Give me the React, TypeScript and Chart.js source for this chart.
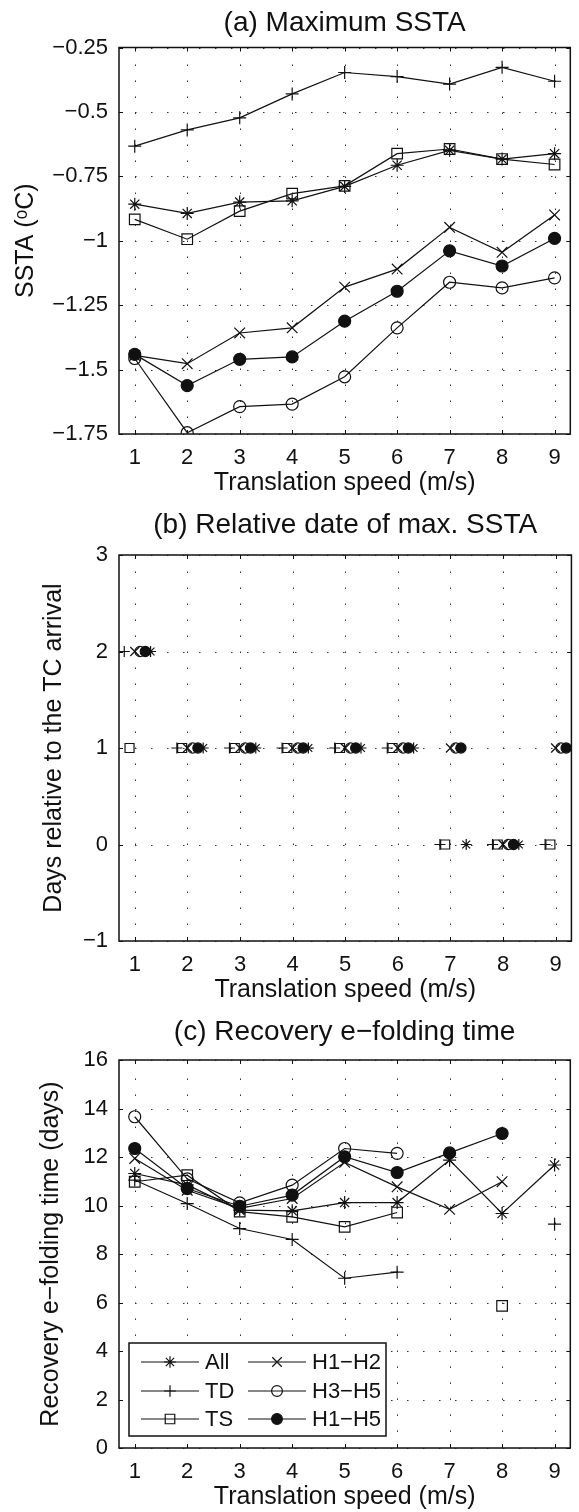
import React, { useEffect, useRef } from "react";
import { Chart, registerables } from "chart.js";

Chart.register(...registerables);

const FONT = "'Liberation Sans', Arial, Helvetica, sans-serif";
const INK = "#111111";

// ---- categories / series names ----
const speeds = [1, 2, 3, 4, 5, 6, 7, 8, 9];
const seriesNames = ["All", "TD", "TS", "H1\u2212H2", "H3\u2212H5", "H1\u2212H5"];

// ---- tick labels ----
const speedTicks = [1, 2, 3, 4, 5, 6, 7, 8, 9];
const sstaTicks = [-1.75, -1.5, -1.25, -1, -0.75, -0.5, -0.25];
const dateTicks = [-1, 0, 1, 2, 3];
const recoveryTicks = [0, 2, 4, 6, 8, 10, 12, 14, 16];

// ---- (a) Maximum SSTA (°C) ----
const sstaAll = [-0.858, -0.894, -0.85, -0.845, -0.789, -0.707, -0.649, -0.683, -0.662];
const sstaTD = [-0.633, -0.57, -0.523, -0.43, -0.347, -0.363, -0.392, -0.327, -0.381];
const sstaTS = [-0.917, -0.994, -0.885, -0.817, -0.787, -0.662, -0.644, -0.683, -0.704];
const sstaH12 = [-1.445, -1.477, -1.358, -1.338, -1.18, -1.11, -0.948, -1.045, -0.9];
const sstaH35 = [-1.457, -1.745, -1.644, -1.634, -1.528, -1.338, -1.161, -1.183, -1.144];
const sstaH15 = [-1.441, -1.562, -1.46, -1.451, -1.312, -1.196, -1.039, -1.098, -0.991];

// ---- (b) Relative date of max. SSTA (days) ----
const dateAll = [2, 1, 1, 1, 1, 1, 0, 0, null];
const dateTD = [2, 1, 1, 1, 1, 1, 0, 0, 0];
const dateTS = [1, 1, 1, 1, 1, 1, 0, 0, 0];
const dateH12 = [2, 1, 1, 1, 1, 1, 1, 0, 1];
const dateH35 = [2, 1, 1, 1, 1, 1, 1, 0, 1];
const dateH15 = [2, 1, 1, 1, 1, 1, 1, 0, 1];
// horizontal jitter of each series in panel (b), in m/s
const dateJitter = [0.3, -0.2, -0.1, 0, 0.1, 0.2];

// ---- (c) Recovery e-folding time (days) ----
const recAll = [11.32, 10.85, 9.81, 9.78, 10.12, 10.12, 11.87, 9.67, 11.67];
const recTD = [11.05, 10.08, 9.05, 8.6, 7.0, 7.25, null, null, 9.23];
const recTS = [10.98, 11.25, 9.75, 9.53, 9.12, 9.71, null, 5.86, null];
const recH12 = [11.94, 10.63, 9.88, 10.29, 11.78, 10.77, 9.84, 10.98, null];
const recH35 = [13.66, 11.1, 10.11, 10.84, 12.35, 12.15, null, null, null];
const recH15 = [12.35, 10.7, 9.97, 10.43, 12.01, 11.36, 12.17, 12.97, null];

// ---- marker styles (index-matched to seriesNames) ----
const markerShapes = ["star", "cross", "rect", "crossRot", "circle", "circle"];
const markerFilled = [false, false, false, false, false, true];
const markerRadius: Record<string, number> = { star: 6.5, cross: 6.5, rect: 7.5, crossRot: 7.5, circle: 6 };

const fmt = (v: number) => String(Math.round(v * 100) / 100).replace("-", "\u2212");

function drawMarker(ctx: CanvasRenderingContext2D, shape: string, x: number, y: number, r: number, filled: boolean) {
  ctx.beginPath();
  if (shape === "circle") {
    ctx.arc(x, y, r, 0, Math.PI * 2);
    if (filled) { ctx.fillStyle = INK; ctx.fill(); }
    ctx.stroke();
    return;
  }
  if (shape === "rect") {
    const s = r * Math.SQRT1_2;
    ctx.rect(x - s, y - s, 2 * s, 2 * s);
    ctx.stroke();
    return;
  }
  if (shape === "cross" || shape === "star") {
    ctx.moveTo(x - r, y); ctx.lineTo(x + r, y);
    ctx.moveTo(x, y - r); ctx.lineTo(x, y + r);
  }
  if (shape === "crossRot" || shape === "star") {
    const d = r * Math.SQRT1_2;
    ctx.moveTo(x - d, y - d); ctx.lineTo(x + d, y + d);
    ctx.moveTo(x - d, y + d); ctx.lineTo(x + d, y - d);
  }
  ctx.stroke();
}

const framePlugin = {
  id: "frame",
  beforeDatasetsDraw(chart: any) {
    const { ctx, chartArea, scales } = chart;
    const { left, right, top, bottom } = chartArea;
    ctx.save();
    ctx.strokeStyle = "#333";
    ctx.lineWidth = 1;
    ctx.setLineDash([1.5, 14.5]);
    for (const t of scales.x.ticks) {
      const px = Math.round(scales.x.getPixelForValue(t.value)) + 0.5;
      ctx.beginPath(); ctx.moveTo(px, bottom); ctx.lineTo(px, top); ctx.stroke();
    }
    for (const t of scales.y.ticks) {
      const py = Math.round(scales.y.getPixelForValue(t.value)) + 0.5;
      ctx.beginPath(); ctx.moveTo(left, py); ctx.lineTo(right, py); ctx.stroke();
    }
    ctx.restore();
  },
  afterDatasetsDraw(chart: any, _args: any, opts: any) {
    const { ctx, chartArea, scales } = chart;
    const { left, right, top, bottom } = chartArea;
    ctx.save();
    ctx.setLineDash([]);
    ctx.strokeStyle = INK;
    ctx.lineWidth = 1;
    const tk = 4;
    ctx.beginPath();
    for (const t of scales.x.ticks) {
      const px = Math.round(scales.x.getPixelForValue(t.value)) + 0.5;
      ctx.moveTo(px, bottom); ctx.lineTo(px, bottom - tk);
      ctx.moveTo(px, top); ctx.lineTo(px, top + tk);
    }
    for (const t of scales.y.ticks) {
      const py = Math.round(scales.y.getPixelForValue(t.value)) + 0.5;
      ctx.moveTo(left, py); ctx.lineTo(left + tk, py);
      ctx.moveTo(right, py); ctx.lineTo(right - tk, py);
    }
    ctx.stroke();
    ctx.lineWidth = 1.5;
    ctx.strokeRect(left, top, right - left, bottom - top);

    if (opts && opts.legend) {
      const w = 257, h = 93;
      const x0 = left + 10, y0 = bottom - 12 - h;
      ctx.fillStyle = "#ffffff";
      ctx.fillRect(x0, y0, w, h);
      ctx.lineWidth = 1.5;
      ctx.strokeRect(x0, y0, w, h);
      const rows = [19, 48, 76];
      const cols = [12, 119];
      ctx.font = `22px ${FONT}`;
      ctx.textBaseline = "middle";
      ctx.textAlign = "left";
      chart.data.datasets.forEach((ds: any, i: number) => {
        const cx = x0 + cols[Math.floor(i / 3)];
        const cy = y0 + rows[i % 3];
        ctx.strokeStyle = INK;
        ctx.lineWidth = 1.2;
        ctx.beginPath(); ctx.moveTo(cx, cy); ctx.lineTo(cx + 58, cy); ctx.stroke();
        drawMarker(ctx, markerShapes[i], cx + 29, cy, markerRadius[markerShapes[i]] * 0.9, markerFilled[i]);
        ctx.fillStyle = INK;
        ctx.fillText(ds.label, cx + 64, cy + 1);
      });
    }
    ctx.restore();
  },
};

type PanelSpec = {
  height: number;
  title: string;
  titlePad: { top: number; bottom: number };
  yTitle: string;
  yTitlePad: number;
  yTicks: number[];
  series: (number | null)[][];
  jitter?: number[];
  lines: boolean;
  markerScale: number;
  xAxisHeight: number;
  xTitlePadBottom: number;
  legend: boolean;
};

function buildConfig(spec: PanelSpec): any {
  const datasets = spec.series.map((vals, i) => {
    const shape = markerShapes[i];
    return {
      label: seriesNames[i],
      data: speeds.map((s, k) => ({ x: s + (spec.jitter ? spec.jitter[i] : 0), y: vals[k] })),
      showLine: spec.lines,
      borderColor: INK,
      borderWidth: 1.2,
      tension: 0,
      spanGaps: false,
      pointStyle: shape,
      pointRadius: markerRadius[shape] * spec.markerScale,
      pointBorderColor: INK,
      pointBorderWidth: 1.2,
      pointBackgroundColor: markerFilled[i] ? INK : "rgba(0,0,0,0)",
    };
  });
  const tickFont = { family: FONT, size: 22 };
  const labelFont = { family: FONT, size: 25, lineHeight: 1.2 };
  return {
    type: "line",
    data: { datasets },
    plugins: [framePlugin],
    options: {
      responsive: false,
      animation: false,
      devicePixelRatio: 1,
      events: [],
      layout: { padding: { left: 0, right: 7, top: 0, bottom: 0 } },
      plugins: {
        legend: { display: false },
        tooltip: { enabled: false },
        title: {
          display: true,
          text: spec.title,
          fullSize: false,
          color: INK,
          font: { family: FONT, size: 28, weight: "normal", lineHeight: 1.2 },
          padding: spec.titlePad,
        },
        frame: { legend: spec.legend },
      },
      scales: {
        x: {
          type: "linear",
          min: 0.7,
          max: 9.3,
          afterBuildTicks: (s: any) => { s.ticks = speedTicks.map((v) => ({ value: v })); },
          afterFit: (s: any) => { s.height = spec.xAxisHeight; },
          grid: { display: false, drawTicks: false },
          border: { display: false },
          ticks: { font: tickFont, color: INK, padding: 10.8, maxRotation: 0, autoSkip: false, callback: (v: any) => fmt(Number(v)) },
          title: { display: true, text: "Translation speed (m/s)", color: INK, font: labelFont, padding: { top: 0, bottom: spec.xTitlePadBottom } },
        },
        y: {
          type: "linear",
          min: spec.yTicks[0],
          max: spec.yTicks[spec.yTicks.length - 1],
          afterBuildTicks: (s: any) => { s.ticks = spec.yTicks.map((v) => ({ value: v })); },
          afterFit: (s: any) => { s.width = 119; },
          grid: { display: false, drawTicks: false },
          border: { display: false },
          ticks: { font: tickFont, color: INK, padding: 11, autoSkip: false, callback: (v: any) => fmt(Number(v)) },
          title: { display: true, text: spec.yTitle, color: INK, font: labelFont, padding: { top: spec.yTitlePad, bottom: 0 } },
        },
      },
    },
  };
}

const panels: PanelSpec[] = [
  {
    height: 500,
    title: "(a) Maximum SSTA",
    titlePad: { top: 6.2, bottom: 7.7 },
    yTitle: "SSTA (\u1D52C)",
    yTitlePad: 11,
    yTicks: sstaTicks,
    series: [sstaAll, sstaTD, sstaTS, sstaH12, sstaH35, sstaH15],
    lines: true,
    markerScale: 1,
    xAxisHeight: 66,
    xTitlePadBottom: 2,
    legend: false,
  },
  {
    height: 507,
    title: "(b) Relative date of max. SSTA",
    titlePad: { top: 8.2, bottom: 13.2 },
    yTitle: "Days relative to the TC arrival",
    yTitlePad: 39,
    yTicks: dateTicks,
    series: [dateAll, dateTD, dateTS, dateH12, dateH35, dateH15],
    jitter: dateJitter,
    lines: false,
    markerScale: 0.85,
    xAxisHeight: 66,
    xTitlePadBottom: 2,
    legend: false,
  },
  {
    height: 505,
    title: "(c) Recovery e\u2212folding time",
    titlePad: { top: 8.7, bottom: 10.7 },
    yTitle: "Recovery e\u2212folding time (days)",
    yTitlePad: 36,
    yTicks: recoveryTicks,
    series: [recAll, recTD, recTS, recH12, recH35, recH15],
    lines: true,
    markerScale: 1,
    xAxisHeight: 64,
    xTitlePadBottom: 0,
    legend: true,
  },
];

function Panel({ spec }: { spec: PanelSpec }) {
  const ref = useRef<HTMLCanvasElement>(null);
  useEffect(() => {
    const chart = new Chart(ref.current as HTMLCanvasElement, buildConfig(spec));
    return () => chart.destroy();
  }, [spec]);
  return <canvas ref={ref} width={579} height={spec.height} style={{ display: "block", width: 579, height: spec.height }} />;
}

export default function App() {
  return (
    <div style={{ position: "absolute", left: 0, top: 0, width: 579, background: "#fff" }}>
      {panels.map((p, i) => (
        <Panel key={i} spec={p} />
      ))}
    </div>
  );
}
